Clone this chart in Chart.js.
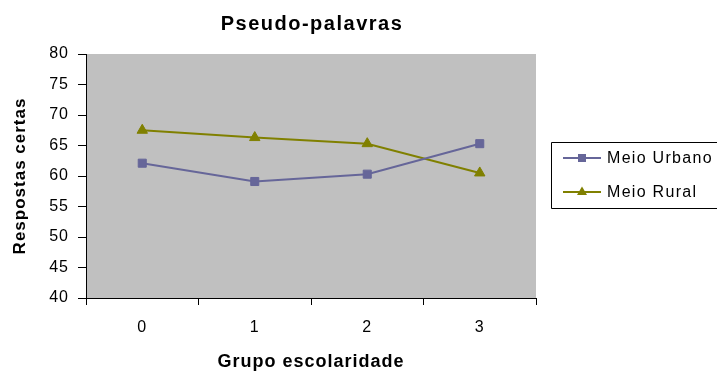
<!DOCTYPE html>
<html><head><meta charset="utf-8">
<script src="https://cdn.jsdelivr.net/npm/chart.js@4.4.1/dist/chart.umd.min.js"></script>
<style>html,body{margin:0;padding:0;background:#fff;overflow:hidden}</style>
</head><body>
<canvas id="c" width="717" height="373" style="display:block;width:717px;height:373px"></canvas>
<script>
const categories = ['0', '1', '2', '3'];
const seriesNames = ['Meio Urbano', 'Meio Rural'];
const urbano = [62.1, 59.1, 60.3, 65.3];
const rural = [67.5, 66.3, 65.3, 60.5];
const yMin = 40, yMax = 80, yStep = 5;
const chartTitle = 'Pseudo-palavras';
const xTitle = 'Grupo escolaridade';
const yTitle = 'Respostas certas';

const FONT = 'Liberation Sans, Arial, sans-serif';
const colors = ['#666699', '#808000'];
const styles = ['rect', 'triangle'];

const spacingPlugin = {
  id: 'spacing',
  beforeUpdate(chart) { chart.ctx.letterSpacing = '1px'; },
  beforeDraw(chart) { chart.ctx.letterSpacing = '1px'; }
};

const bgPlugin = {
  id: 'plotBg',
  beforeDraw(chart) {
    const {ctx, chartArea: a} = chart;
    ctx.save();
    ctx.fillStyle = '#C0C0C0';
    ctx.fillRect(a.left, a.top, a.right - a.left, a.bottom - a.top);
    ctx.restore();
  }
};

const titleLegendPlugin = {
  id: 'titleLegend',
  afterDraw(chart) {
    const {ctx, chartArea: a} = chart;
    ctx.save();
    // title
    ctx.letterSpacing = '1.5px';
    ctx.font = 'bold 20px ' + FONT;
    ctx.fillStyle = '#000';
    ctx.textAlign = 'center';
    ctx.textBaseline = 'middle';
    ctx.fillText(chartTitle, (a.left + a.right) / 2 + 1, 24);
    // legend
    ctx.letterSpacing = '1.3px';
    ctx.strokeStyle = '#000';
    ctx.lineWidth = 1;
    ctx.beginPath();
    ctx.moveTo(760, 142.5); ctx.lineTo(551.5, 142.5); ctx.lineTo(551.5, 208.5); ctx.lineTo(760, 208.5);
    ctx.stroke();
    ctx.font = '16px ' + FONT;
    ctx.textAlign = 'left';
    chart.data.datasets.forEach((ds, i) => {
      const y = 158 + i * 34;
      ctx.strokeStyle = ds.borderColor;
      ctx.lineWidth = 2;
      ctx.beginPath();
      ctx.moveTo(563, y); ctx.lineTo(601, y); ctx.stroke();
      ctx.fillStyle = ds.pointBackgroundColor;
      if (ds.pointStyle === 'rect') {
        ctx.fillRect(578, y - 4, 8, 8);
      } else {
        ctx.beginPath();
        ctx.moveTo(582, y - 5.5);
        ctx.lineTo(587, y + 3);
        ctx.lineTo(577, y + 3);
        ctx.closePath();
        ctx.fill();
      }
      ctx.fillStyle = '#000';
      ctx.fillText(ds.label, 607, y + 1);
    });
    ctx.restore();
  }
};

const datasets = [urbano, rural].map((d, i) => ({
  label: seriesNames[i],
  data: d,
  borderColor: colors[i],
  backgroundColor: colors[i],
  pointBackgroundColor: colors[i],
  pointBorderColor: colors[i],
  pointStyle: styles[i],
  pointRadius: i === 0 ? 5.7 : 6,
  pointBorderWidth: 1,
  borderWidth: 2,
  tension: 0,
  fill: false
}));

new Chart(document.getElementById('c'), {
  type: 'line',
  data: { labels: categories, datasets },
  plugins: [spacingPlugin, bgPlugin, titleLegendPlugin],
  options: {
    responsive: false,
    animation: false,
    devicePixelRatio: 1,
    layout: { padding: { top: 54, right: 181, left: 0, bottom: 0 } },
    plugins: { legend: { display: false }, title: { display: false }, tooltip: { enabled: false } },
    scales: {
      x: {
        type: 'category',
        offset: true,
        grid: { offset: true, drawOnChartArea: false, drawTicks: true, tickLength: 7, color: '#000', tickColor: '#000' },
        border: { display: true, color: '#000', width: 1 },
        ticks: { color: '#000', font: { family: FONT, size: 16 }, padding: 13, maxRotation: 0 },
        title: { display: true, text: xTitle, color: '#000', font: { family: FONT, size: 18, weight: 'bold' }, padding: { top: 0, bottom: 0 } },
        afterFit(s) { s.height = 75; }
      },
      y: {
        min: yMin, max: yMax,
        grid: { drawOnChartArea: false, drawTicks: true, tickLength: 8, color: '#000', tickColor: '#000' },
        border: { display: true, color: '#000', width: 1 },
        ticks: { stepSize: yStep, color: '#000', font: { family: FONT, size: 16 }, padding: 9 },
        title: { display: true, text: yTitle, color: '#000', font: { family: FONT, size: 17, weight: 'bold' }, padding: { top: 10, bottom: 0 } },
        afterFit(s) { s.width = 86; }
      }
    }
  }
});
</script>
</body></html>
